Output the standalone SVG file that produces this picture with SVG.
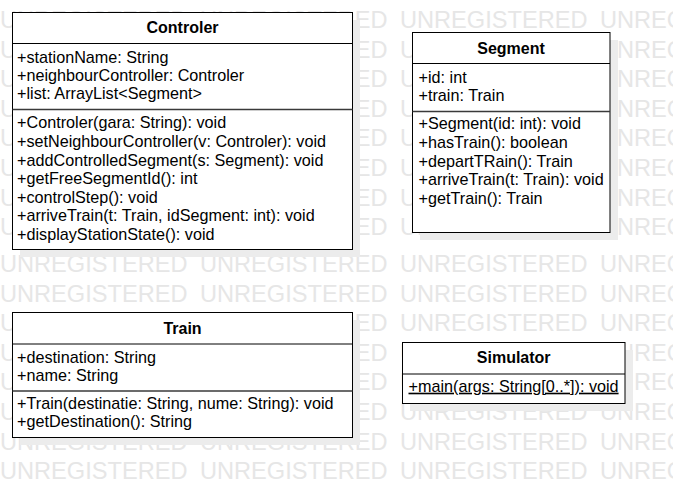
<svg xmlns="http://www.w3.org/2000/svg" width="673" height="487" viewBox="0 0 673 487">
<style>
.wm{font-family:"Liberation Sans",Arial,sans-serif;font-size:23.6px;fill:#e6e6e6}
.box{fill:#ffffff;stroke:#000000;stroke-width:1}
.shadow{fill:#ececec}
.sep{stroke:#000000;stroke-width:1}
.sep2{stroke:#3a3a3a;stroke-width:1.6}
.title{font-family:"Liberation Sans",Arial,sans-serif;font-size:16px;font-weight:bold;fill:#000;text-anchor:middle}
.t{font-family:"Liberation Sans",Arial,sans-serif;font-size:16.2px;fill:#000}
</style>
<rect width="673" height="487" fill="#ffffff"/>
<g id="watermark">
<text class="wm" y="28"><tspan x="0">UNREGISTERED</tspan><tspan x="200">UNREGISTERED</tspan><tspan x="400">UNREGISTERED</tspan><tspan x="600">UNREGISTERED</tspan></text>
<text class="wm" y="57.6"><tspan x="0">UNREGISTERED</tspan><tspan x="200">UNREGISTERED</tspan><tspan x="400">UNREGISTERED</tspan><tspan x="600">UNREGISTERED</tspan></text>
<text class="wm" y="87.2"><tspan x="0">UNREGISTERED</tspan><tspan x="200">UNREGISTERED</tspan><tspan x="400">UNREGISTERED</tspan><tspan x="600">UNREGISTERED</tspan></text>
<text class="wm" y="116.8"><tspan x="0">UNREGISTERED</tspan><tspan x="200">UNREGISTERED</tspan><tspan x="400">UNREGISTERED</tspan><tspan x="600">UNREGISTERED</tspan></text>
<text class="wm" y="146.4"><tspan x="0">UNREGISTERED</tspan><tspan x="200">UNREGISTERED</tspan><tspan x="400">UNREGISTERED</tspan><tspan x="600">UNREGISTERED</tspan></text>
<text class="wm" y="176"><tspan x="0">UNREGISTERED</tspan><tspan x="200">UNREGISTERED</tspan><tspan x="400">UNREGISTERED</tspan><tspan x="600">UNREGISTERED</tspan></text>
<text class="wm" y="205.6"><tspan x="0">UNREGISTERED</tspan><tspan x="200">UNREGISTERED</tspan><tspan x="400">UNREGISTERED</tspan><tspan x="600">UNREGISTERED</tspan></text>
<text class="wm" y="235.2"><tspan x="0">UNREGISTERED</tspan><tspan x="200">UNREGISTERED</tspan><tspan x="400">UNREGISTERED</tspan><tspan x="600">UNREGISTERED</tspan></text>
<text class="wm" y="272"><tspan x="0">UNREGISTERED</tspan><tspan x="200">UNREGISTERED</tspan><tspan x="400">UNREGISTERED</tspan><tspan x="600">UNREGISTERED</tspan></text>
<text class="wm" y="301.6"><tspan x="0">UNREGISTERED</tspan><tspan x="200">UNREGISTERED</tspan><tspan x="400">UNREGISTERED</tspan><tspan x="600">UNREGISTERED</tspan></text>
<text class="wm" y="331.2"><tspan x="0">UNREGISTERED</tspan><tspan x="200">UNREGISTERED</tspan><tspan x="400">UNREGISTERED</tspan><tspan x="600">UNREGISTERED</tspan></text>
<text class="wm" y="360.8"><tspan x="0">UNREGISTERED</tspan><tspan x="200">UNREGISTERED</tspan><tspan x="400">UNREGISTERED</tspan><tspan x="600">UNREGISTERED</tspan></text>
<text class="wm" y="390.4"><tspan x="0">UNREGISTERED</tspan><tspan x="200">UNREGISTERED</tspan><tspan x="400">UNREGISTERED</tspan><tspan x="600">UNREGISTERED</tspan></text>
<text class="wm" y="420"><tspan x="0">UNREGISTERED</tspan><tspan x="200">UNREGISTERED</tspan><tspan x="400">UNREGISTERED</tspan><tspan x="600">UNREGISTERED</tspan></text>
<text class="wm" y="449.6"><tspan x="0">UNREGISTERED</tspan><tspan x="200">UNREGISTERED</tspan><tspan x="400">UNREGISTERED</tspan><tspan x="600">UNREGISTERED</tspan></text>
<text class="wm" y="479.2"><tspan x="0">UNREGISTERED</tspan><tspan x="200">UNREGISTERED</tspan><tspan x="400">UNREGISTERED</tspan><tspan x="600">UNREGISTERED</tspan></text>
</g>
<g id="connectors"></g>
<g id="Controler">
<rect class="shadow" x="20" y="20" width="340" height="237"/>
<rect class="box" x="12.5" y="12.5" width="340" height="237"/>
<line class="sep" x1="12.5" y1="43.5" x2="352.5" y2="43.5"/>
<line class="sep2" x1="12.5" y1="109.5" x2="352.5" y2="109.5"/>
<text class="title" x="182.5" y="32.8">Controler</text>
<text class="t" x="17" y="62.5">+stationName: String</text>
<text class="t" x="17" y="81">+neighbourController: Controler</text>
<text class="t" x="17" y="99">+list: ArrayList&lt;Segment&gt;</text>
<text class="t" x="17" y="128.3">+Controler(gara: String): void</text>
<text class="t" x="17" y="146.9">+setNeighbourController(v: Controler): void</text>
<text class="t" x="17" y="165.5">+addControlledSegment(s: Segment): void</text>
<text class="t" x="17" y="184.1">+getFreeSegmentId(): int</text>
<text class="t" x="17" y="202.7">+controlStep(): void</text>
<text class="t" x="17" y="221.3">+arriveTrain(t: Train, idSegment: int): void</text>
<text class="t" x="17" y="239.9">+displayStationState(): void</text>
</g>
<g id="Segment">
<rect class="shadow" x="420" y="40" width="198" height="200"/>
<rect class="box" x="412.5" y="32.5" width="197.5" height="200"/>
<line class="sep" x1="412.5" y1="63.5" x2="610" y2="63.5"/>
<line class="sep2" x1="412.5" y1="111.5" x2="610" y2="111.5"/>
<text class="title" x="511" y="53.5">Segment</text>
<text class="t" x="418.5" y="82.7">+id: int</text>
<text class="t" x="418.5" y="100.9">+train: Train</text>
<text class="t" x="418.5" y="129.3">+Segment(id: int): void</text>
<text class="t" x="418.5" y="148">+hasTrain(): boolean</text>
<text class="t" x="418.5" y="166.7">+departTRain(): Train</text>
<text class="t" x="418.5" y="185.3">+arriveTrain(t: Train): void</text>
<text class="t" x="418.5" y="204">+getTrain(): Train</text>
</g>
<g id="Train">
<rect class="shadow" x="20" y="320" width="340" height="125"/>
<rect class="box" x="12.5" y="312.5" width="340" height="125"/>
<line class="sep" x1="12.5" y1="344" x2="352.5" y2="344"/>
<line class="sep2" x1="12.5" y1="391" x2="352.5" y2="391"/>
<text class="title" x="182.5" y="333.5">Train</text>
<text class="t" x="17" y="362.7">+destination: String</text>
<text class="t" x="17" y="381.2">+name: String</text>
<text class="t" x="17" y="408.5">+Train(destinatie: String, nume: String): void</text>
<text class="t" x="17" y="427.2">+getDestination(): String</text>
</g>
<g id="Simulator">
<rect class="shadow" x="410" y="350" width="223" height="61"/>
<rect class="box" x="402.5" y="342.5" width="222.5" height="61"/>
<line class="sep" x1="402.5" y1="374" x2="625" y2="374"/>
<text class="title" x="513.7" y="363">Simulator</text>
<text class="t" x="408.5" y="391.7" text-decoration="underline">+main(args: String[0..*]): void</text>
</g>
</svg>
